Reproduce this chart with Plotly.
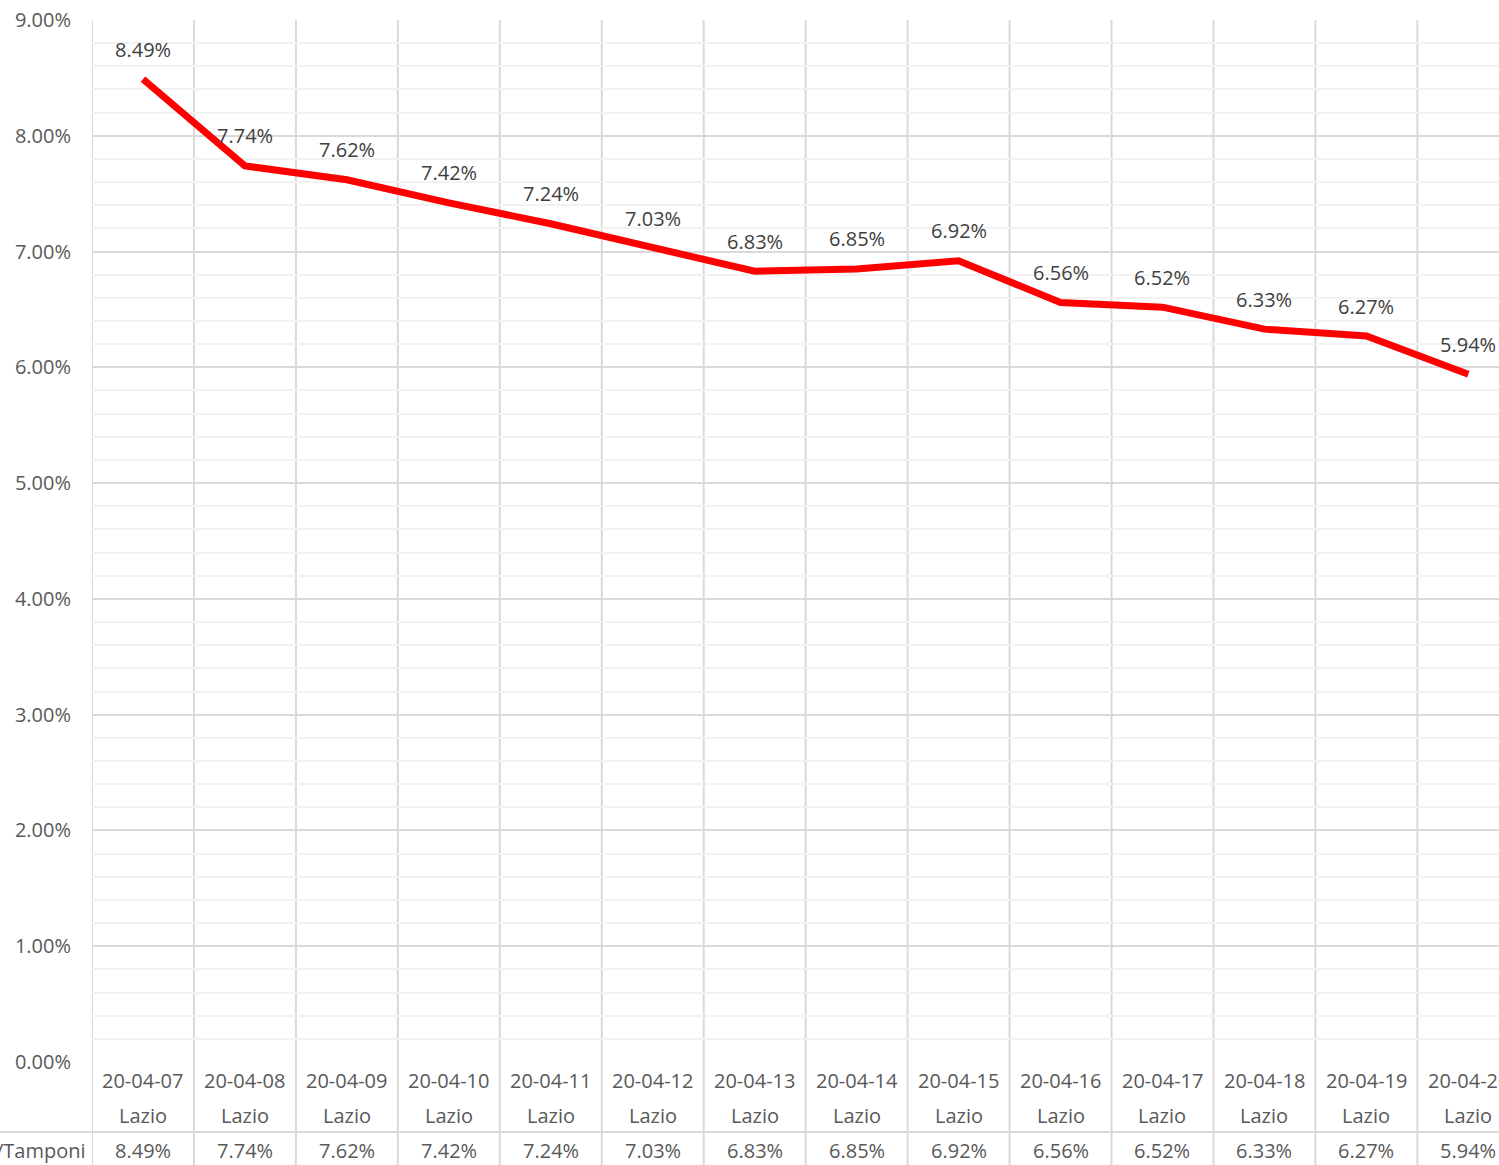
import plotly.graph_objects as go

dates = ["20-04-07", "20-04-08", "20-04-09", "20-04-10", "20-04-11", "20-04-12", "20-04-13",
         "20-04-14", "20-04-15", "20-04-16", "20-04-17", "20-04-18", "20-04-19", "20-04-20"]
region = ["Lazio"] * len(dates)
ratio = [0.0849, 0.0774, 0.0762, 0.0742, 0.0724, 0.0703, 0.0683,
         0.0685, 0.0692, 0.0656, 0.0652, 0.0633, 0.0627, 0.0594]
series_name = "/Tamponi"

W, H = 1499, 1165
L, T, B = 92, 20, 103
plot_w = W - L
plot_h = H - T - B
col_w = 101.95
n = len(dates)
x_max = -0.5 + plot_w / col_w

FONT = "Open Sans, Noto Sans, sans-serif"
FS = 20
TXT = "#595959"
GRID = "#d9d9d9"
MINOR = "#f2f2f2"

xs = list(range(n))

fig = go.Figure()
fig.add_trace(go.Scatter(
    x=xs, y=ratio, mode="lines",
    line=dict(color="#ff0000", width=7, shape="linear"),
    hoverinfo="skip", showlegend=False,
))

shapes = []
# vertical column separators (plot + table)
for i in range(n + 1):
    shapes.append(dict(type="line", xref="x", yref="paper",
                       x0=i - 0.5, x1=i - 0.5, y0=-B / plot_h, y1=1,
                       line=dict(color=GRID, width=2), layer="below"))
# table row separator
shapes.append(dict(type="line", xref="paper", yref="paper",
                   x0=-L / plot_w, x1=1, y0=-70 / plot_h, y1=-70 / plot_h,
                   line=dict(color=GRID, width=2), layer="below"))

annotations = []
# data labels
for i, v in enumerate(ratio):
    annotations.append(dict(x=i, y=v, xref="x", yref="y", text=f"{v*100:.2f}%",
                            showarrow=False, yanchor="middle", yshift=30,
                            font=dict(family=FONT, size=FS, color="#404040")))
# table text
rows = [(18, dates), (53, region), (88, [f"{v*100:.2f}%" for v in ratio])]
for dy, vals in rows:
    for i, t in enumerate(vals):
        annotations.append(dict(x=i, y=-dy / plot_h, xref="x", yref="paper", text=t,
                                showarrow=False, yanchor="middle",
                                font=dict(family=FONT, size=FS, color=TXT)))
annotations.append(dict(x=-4 / plot_w, y=-88 / plot_h, xref="paper", yref="paper",
                        text=series_name, showarrow=False, xanchor="right", yanchor="middle",
                        font=dict(family=FONT, size=FS, color=TXT)))

fig.update_layout(
    width=W, height=H,
    margin=dict(l=L, r=0, t=T, b=B),
    paper_bgcolor="white", plot_bgcolor="white",
    shapes=shapes, annotations=annotations,
    xaxis=dict(range=[-0.5, x_max], showgrid=False, zeroline=False,
               showticklabels=False, ticks="", fixedrange=True),
    yaxis=dict(range=[0, 0.09], dtick=0.01, tick0=0, tickformat=".2%",
               showgrid=True, gridcolor=GRID, gridwidth=2, zeroline=False,
               minor=dict(dtick=0.002, showgrid=True, gridcolor=MINOR, gridwidth=2),
               ticks="", ticklabelstandoff=20,
               tickfont=dict(family=FONT, size=FS, color=TXT), fixedrange=True),
    font=dict(family=FONT),
)

fig.write_html(
    "out.html",
    config={"displayModeBar": False},
    post_script="document.body.style.margin='0';document.body.style.overflow='hidden';",
)
